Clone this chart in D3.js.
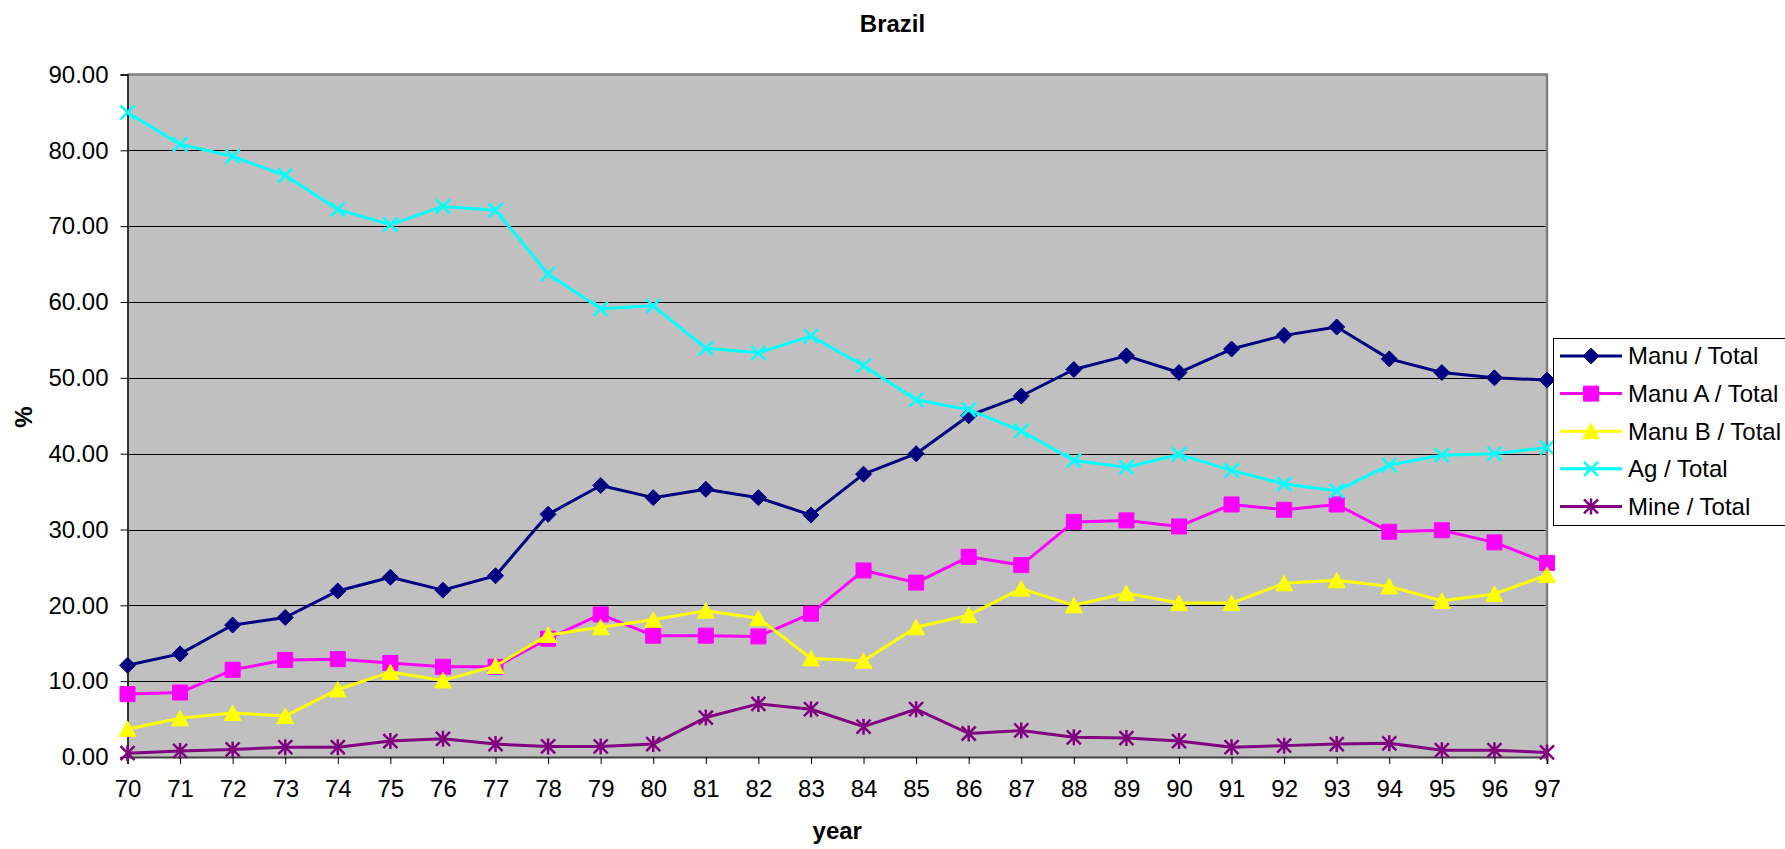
<!DOCTYPE html>
<html>
<head>
<meta charset="utf-8">
<script src="https://cdn.jsdelivr.net/npm/d3@7"></script>
<style>
  body { margin: 0; background: #fff; }
  #chart { width: 1785px; height: 849px; }
  text { font-family: "Liberation Sans", Arial, sans-serif; }
</style>
</head>
<body>
<div id="chart"></div>
<script>
// data
const years = ["70", "71", "72", "73", "74", "75", "76", "77", "78", "79", "80", "81", "82", "83",
  "84", "85", "86", "87", "88", "89", "90", "91", "92", "93", "94", "95", "96", "97"];
const manu = [12.1, 13.6, 17.4, 18.4, 21.9, 23.7, 22.0, 23.9, 32.0, 35.8, 34.2, 35.3, 34.2, 31.9,
  37.3, 40.0, 45.0, 47.6, 51.1, 52.9, 50.7, 53.8, 55.6, 56.7, 52.5, 50.7, 50.0, 49.7];
const manuA = [8.3, 8.5, 11.5, 12.8, 12.9, 12.4, 11.9, 11.9, 15.6, 18.8, 16.0, 16.0, 15.9, 18.9,
  24.6, 23.0, 26.4, 25.3, 31.0, 31.2, 30.4, 33.3, 32.6, 33.3, 29.7, 29.9, 28.3, 25.6];
const manuB = [3.7, 5.1, 5.8, 5.4, 8.9, 11.2, 10.1, 12.0, 16.1, 17.1, 18.1, 19.3, 18.3, 13.0,
  12.7, 17.1, 18.7, 22.2, 20.0, 21.6, 20.3, 20.3, 22.9, 23.3, 22.5, 20.6, 21.5, 24.0];
const ag = [85.0, 80.8, 79.2, 76.7, 72.2, 70.2, 72.6, 72.1, 63.7, 59.1, 59.5, 53.9, 53.3, 55.5,
  51.6, 47.1, 45.8, 43.0, 39.1, 38.2, 39.9, 37.8, 36.0, 35.1, 38.5, 39.8, 40.0, 40.8];
const mine = [0.5, 0.8, 1.0, 1.3, 1.3, 2.1, 2.4, 1.7, 1.4, 1.4, 1.7, 5.2, 7.0, 6.3,
  4.0, 6.3, 3.1, 3.5, 2.6, 2.5, 2.1, 1.3, 1.5, 1.7, 1.8, 0.9, 0.9, 0.6];
const seriesNames = ["Manu / Total", "Manu A / Total", "Manu B / Total", "Ag / Total", "Mine / Total"];
const yTicks = [0, 10, 20, 30, 40, 50, 60, 70, 80, 90];

const width = 1785, height = 849;
const margin = { left: 127.5, right: 1547, top: 74.5, bottom: 757 };
const fontSize = 24;

const svg = d3.select("#chart")
  .append("svg")
  .attr("width", width)
  .attr("height", height)
  .attr("viewBox", [0, 0, width, height]);

const x = d3.scalePoint()
  .domain(years)
  .range([margin.left, margin.right]);

const y = d3.scaleLinear()
  .domain([0, 90])
  .range([margin.bottom, margin.top]);

// marker shapes, Excel style
const markerPath = {
  diamond: "M0,-8L8,0L0,8L-8,0Z",
  square: "M-7.5,-7.5H7.5V7.5H-7.5Z",
  triangle: "M0,-8L8.5,7.5H-8.5Z",
  cross: "M-7,-7L7,7M7,-7L-7,7",
  star: "M-7,-7L7,7M7,-7L-7,7M0,-8V8"
};

const series = [
  { name: seriesNames[0], values: manu, color: "#000080", shape: "diamond", filled: true },
  { name: seriesNames[1], values: manuA, color: "#ff00ff", shape: "square", filled: true },
  { name: seriesNames[2], values: manuB, color: "#ffff00", shape: "triangle", filled: true },
  { name: seriesNames[3], values: ag, color: "#00ffff", shape: "cross", filled: false },
  { name: seriesNames[4], values: mine, color: "#800080", shape: "star", filled: false }
];

// plot area
svg.append("rect")
  .attr("x", margin.left)
  .attr("y", margin.top)
  .attr("width", margin.right - margin.left)
  .attr("height", margin.bottom - margin.top)
  .attr("fill", "#c0c0c0");

// gridlines
svg.append("g")
  .selectAll("line")
  .data(yTicks.filter(d => d > 0 && d < 90))
  .join("line")
  .attr("x1", margin.left)
  .attr("x2", margin.right)
  .attr("y1", d => Math.round(y(d)) + 0.5)
  .attr("y2", d => Math.round(y(d)) + 0.5)
  .attr("stroke", "#000")
  .attr("stroke-width", 1);

// gray border on top and right
svg.append("path")
  .attr("d", `M${margin.left},${margin.top}H${margin.right}V${margin.bottom}`)
  .attr("fill", "none")
  .attr("stroke", "#808080")
  .attr("stroke-width", 2.5);

// y axis
const yAxis = svg.append("g")
  .attr("transform", `translate(${margin.left},0)`)
  .call(d3.axisLeft(y).tickValues(yTicks).tickFormat(d3.format(".2f")).tickSize(7).tickPadding(12));
yAxis.select(".domain").attr("stroke", "#000").attr("stroke-width", 1.5);
yAxis.selectAll(".tick line").attr("stroke", "#000");
yAxis.selectAll("text")
  .attr("font-size", fontSize)
  .attr("fill", "#000")
  .attr("font-family", "Liberation Sans, Arial, sans-serif");

// x axis
const xAxis = svg.append("g")
  .attr("transform", `translate(0,${margin.bottom})`)
  .call(d3.axisBottom(x).tickSize(7).tickPadding(16));
xAxis.select(".domain").attr("stroke", "#404040").attr("stroke-width", 2);
xAxis.selectAll(".tick line").attr("stroke", "#000");
xAxis.selectAll("text")
  .attr("font-size", fontSize)
  .attr("fill", "#000")
  .attr("font-family", "Liberation Sans, Arial, sans-serif");

// lines and markers
const line = d3.line()
  .x((d, i) => x(years[i]))
  .y(d => y(d));

series.forEach(s => {
  const g = svg.append("g");
  g.append("path")
    .attr("d", line(s.values))
    .attr("fill", "none")
    .attr("stroke", s.color)
    .attr("stroke-width", 3)
    .attr("stroke-linejoin", "round");
  g.selectAll(".marker")
    .data(s.values)
    .join("path")
    .attr("class", "marker")
    .attr("transform", (d, i) => `translate(${x(years[i])},${y(d)})`)
    .attr("d", markerPath[s.shape])
    .attr("fill", s.filled ? s.color : "none")
    .attr("stroke", s.color)
    .attr("stroke-width", s.filled ? 1 : 2.5);
});

// titles
svg.append("text")
  .attr("x", width / 2)
  .attr("y", 32)
  .attr("text-anchor", "middle")
  .attr("font-size", fontSize)
  .attr("font-weight", "bold")
  .text("Brazil");

svg.append("text")
  .attr("x", (margin.left + margin.right) / 2)
  .attr("y", 839)
  .attr("text-anchor", "middle")
  .attr("font-size", fontSize)
  .attr("font-weight", "bold")
  .text("year");

svg.append("text")
  .attr("transform", "translate(32,417) rotate(-90)")
  .attr("text-anchor", "middle")
  .attr("font-size", fontSize)
  .attr("font-weight", "bold")
  .text("%");

// legend
const legend = svg.append("g");
legend.append("rect")
  .attr("x", 1553.5)
  .attr("y", 338.5)
  .attr("width", 260)
  .attr("height", 187)
  .attr("fill", "#fff")
  .attr("stroke", "#000")
  .attr("stroke-width", 1);

const legendRow = legend.selectAll(".row")
  .data(series)
  .join("g")
  .attr("class", "row")
  .attr("transform", (d, i) => `translate(0,${356 + i * 37.6})`);

legendRow.append("line")
  .attr("x1", 1560)
  .attr("x2", 1622)
  .attr("stroke", d => d.color)
  .attr("stroke-width", 3);

legendRow.append("path")
  .attr("transform", "translate(1591,0)")
  .attr("d", d => markerPath[d.shape])
  .attr("fill", d => d.filled ? d.color : "none")
  .attr("stroke", d => d.color)
  .attr("stroke-width", d => d.filled ? 1 : 2.5);

legendRow.append("text")
  .attr("x", 1628)
  .attr("dy", "0.35em")
  .attr("font-size", fontSize)
  .text(d => d.name);
</script>
</body>
</html>
